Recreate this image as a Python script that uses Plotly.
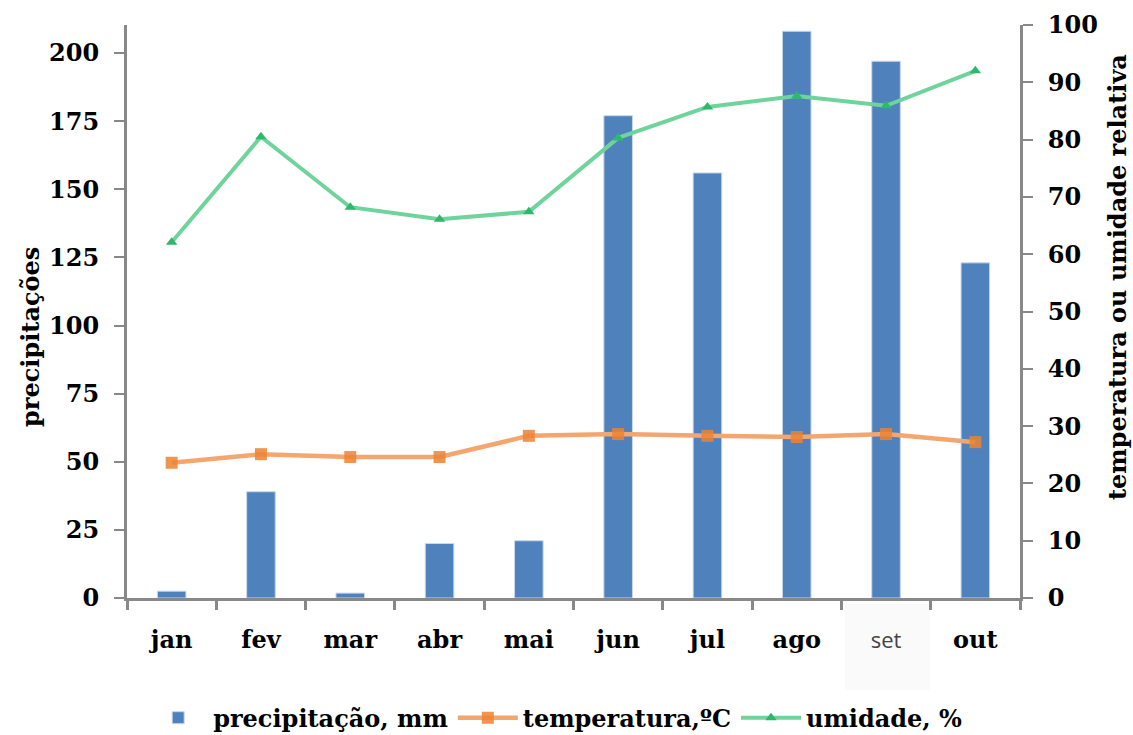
import plotly.graph_objects as go

meses = ["jan", "fev", "mar", "abr", "mai", "jun", "jul", "ago", "set", "out"]
precipitacao = [2.5, 39, 1.8, 20, 21, 177, 156, 208, 197, 123]
temperatura = [23.6, 25.1, 24.6, 24.6, 28.3, 28.6, 28.3, 28.1, 28.6, 27.2]
umidade = [62.1, 80.5, 68.2, 66.1, 67.4, 80.3, 85.7, 87.6, 85.9, 92.0]

tick_text = [m if m != "set" else
             '<span style="font-family:Open Sans;font-weight:normal;fill:#444;font-size:22px">set</span>'
             for m in meses]

FONT = "DejaVu Serif"
FS = 24
fig = go.Figure()
fig.add_trace(go.Bar(x=meses, y=precipitacao, name="precipitação, mm",
                     marker=dict(color="#4F81BD", line=dict(color="#C9D7EA", width=1))))
fig.add_trace(go.Scatter(x=meses, y=temperatura, name="temperatura,ºC", yaxis="y2",
                         mode="lines+markers",
                         line=dict(color="#F4A66E", width=4.5),
                         marker=dict(symbol="square", size=12, color="rgba(236,130,50,0.85)")))
fig.add_trace(go.Scatter(x=meses, y=umidade, name="umidade, %", yaxis="y2",
                         mode="lines+markers",
                         line=dict(color="#6FD49B", width=4),
                         marker=dict(symbol="triangle-up", size=10, color="#2DB96C")))

axis_col = "#888888"
fig.update_layout(
    width=1133, height=735,
    margin=dict(l=127, r=113, t=25, b=137, autoexpand=False),
    paper_bgcolor="white", plot_bgcolor="white",
    font=dict(family=FONT, size=FS, color="black"),
    bargap=0.68,
    showlegend=True,
    legend=dict(orientation="h", x=0.49, xanchor="center", xref="container",
                y=0.023, yanchor="middle", yref="container",
                font=dict(family=FONT, size=FS, color="black", weight="bold"),
                traceorder="normal", itemwidth=60),
    xaxis=dict(type="category", categoryorder="array", categoryarray=meses,
               range=[-0.5, len(meses) - 0.5],
               tickmode="array", tickvals=meses, ticktext=tick_text,
               showline=True, linecolor=axis_col, linewidth=3,
               ticks="outside", tickson="boundaries", ticklen=9, tickwidth=3,
               tickcolor=axis_col, showgrid=False, ticklabelstandoff=18,
               automargin=False,
               tickfont=dict(family=FONT, size=FS, weight="bold")),
    yaxis=dict(range=[0, 210.3], tickvals=[0, 25, 50, 75, 100, 125, 150, 175, 200],
               showline=True, linecolor=axis_col, linewidth=3,
               ticks="outside", ticklen=10, tickwidth=2, tickcolor=axis_col,
               showgrid=False, zeroline=False, ticklabelstandoff=10,
               automargin=False,
               tickfont=dict(family=FONT, size=FS, weight="bold")),
    yaxis2=dict(range=[0, 100], overlaying="y", side="right",
                tickvals=list(range(0, 101, 10)),
                showline=True, linecolor=axis_col, linewidth=3,
                ticks="outside", ticklen=10, tickwidth=2, tickcolor=axis_col,
                showgrid=False, zeroline=False, ticklabelstandoff=10,
                automargin=False,
                tickfont=dict(family=FONT, size=FS, weight="bold")),
    annotations=[
        dict(text="precipitações", xref="paper", yref="paper",
             x=(30 - 127) / 893, y=(598 - 337) / 573, xanchor="center", yanchor="middle",
             textangle=-90, showarrow=False,
             font=dict(family=FONT, size=FS, weight="bold")),
        dict(text="temperatura ou umidade relativa", xref="paper", yref="paper",
             x=(1117 - 127) / 893, y=(598 - 277) / 573, xanchor="center", yanchor="middle",
             textangle=-90, showarrow=False,
             font=dict(family=FONT, size=FS, weight="bold")),
    ],
    shapes=[dict(type="rect", xref="paper", yref="paper",
                 x0=(845 - 127) / 893, x1=(930 - 127) / 893,
                 y0=-(690 - 598) / 573, y1=-(604 - 598) / 573,
                 fillcolor="#FAFAFA", line=dict(width=0), layer="below")],
)

fig.write_html("out.html", config={"displayModeBar": False},
               post_script="document.body.style.margin='0';document.body.style.overflow='hidden';")
